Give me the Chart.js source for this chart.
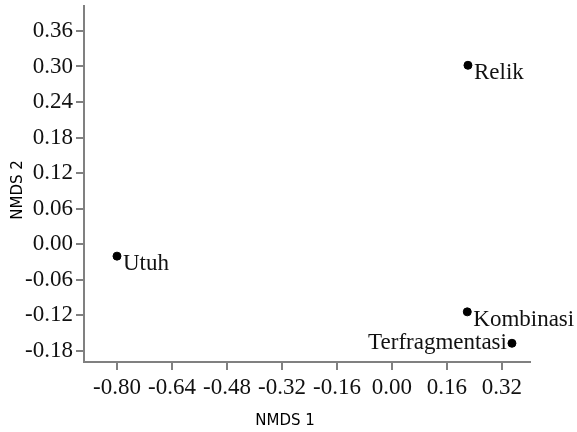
<!DOCTYPE html>
<html>
<head>
<meta charset="utf-8">
<script src="https://cdn.jsdelivr.net/npm/chart.js@4/dist/chart.umd.min.js"></script>
<style>
  body { margin: 0; background: #fff; }
  canvas { display: block; }
</style>
</head>
<body>
<canvas id="nmdsChart" width="577" height="432"></canvas>
<script>
// --- data ---
const siteNames = ["Utuh", "Relik", "Kombinasi", "Terfragmentasi"];
const nmds1 = [-0.800, 0.221, 0.219, 0.349];
const nmds2 = [-0.020, 0.302, -0.114, -0.167];
const xTicks = [-0.80, -0.64, -0.48, -0.32, -0.16, 0.00, 0.16, 0.32];
const yTicks = [-0.18, -0.12, -0.06, 0.00, 0.06, 0.12, 0.18, 0.24, 0.30, 0.36];

// which side of the dot each name goes
const labelSide = ["right", "right", "right", "left"];

const axisColor = "#808080";
const serif = "'Liberation Serif', 'Times New Roman', serif";
const sans = "'DejaVu Sans', Tahoma, sans-serif";

// point names + axis titles
const textPlugin = {
    id: "nmdsText",
    afterDatasetsDraw(chart) {
        const ctx = chart.ctx;
        const meta = chart.getDatasetMeta(0);
        ctx.save();
        ctx.fillStyle = "#111";
        ctx.font = "23px " + serif;
        ctx.textBaseline = "alphabetic";
        meta.data.forEach((pt, i) => {
            if (labelSide[i] === "left") {
                ctx.textAlign = "right";
                ctx.fillText(siteNames[i], pt.x - 5, pt.y + 6);
            } else {
                ctx.textAlign = "left";
                ctx.fillText(siteNames[i], pt.x + 6, pt.y + 14);
            }
        });

        const area = chart.chartArea;
        ctx.font = "15px " + sans;
        ctx.fillStyle = "#000";
        ctx.textAlign = "center";
        ctx.textBaseline = "middle";
        ctx.fillText("NMDS 1", area.left + 201, 421);

        ctx.translate(18, area.top + 184);
        ctx.rotate(-Math.PI / 2);
        ctx.fillText("NMDS 2", 0, 0);
        ctx.restore();
    }
};

const axisStyle = {
    grid: { drawOnChartArea: false, drawTicks: true, tickLength: 8, color: axisColor, lineWidth: 2 },
    border: { color: axisColor, width: 2 }
};

new Chart(document.getElementById("nmdsChart").getContext("2d"), {
    type: "scatter",
    data: {
        datasets: [{
            data: nmds1.map((x, i) => ({ x, y: nmds2[i] })),
            backgroundColor: "#000",
            borderColor: "#000",
            pointRadius: 4,
            pointHoverRadius: 4
        }]
    },
    options: {
        responsive: false,
        animation: false,
        layout: { padding: { top: 6, right: 47, left: 0, bottom: 0 } },
        plugins: {
            legend: { display: false },
            tooltip: { enabled: false }
        },
        scales: {
            x: {
                ...axisStyle,
                min: -0.896,
                max: 0.4015,
                afterBuildTicks: s => { s.ticks = xTicks.map(v => ({ value: v })); },
                afterFit: s => { s.height = 70; s.paddingLeft = 0; s.paddingRight = 0; },
                ticks: {
                    autoSkip: false,
                    maxRotation: 0,
                    padding: 4,
                    color: "#111",
                    font: { family: serif, size: 23 },
                    callback: v => v.toFixed(2)
                }
            },
            y: {
                ...axisStyle,
                min: -0.1986,
                max: 0.402,
                afterBuildTicks: s => { s.ticks = yTicks.map(v => ({ value: v })); },
                afterFit: s => { s.width = 84; s.paddingTop = 0; s.paddingBottom = 0; },
                ticks: {
                    autoSkip: false,
                    padding: 3,
                    color: "#111",
                    font: { family: serif, size: 23 },
                    callback: v => v.toFixed(2)
                }
            }
        }
    },
    plugins: [textPlugin]
});
</script>
</body>
</html>
